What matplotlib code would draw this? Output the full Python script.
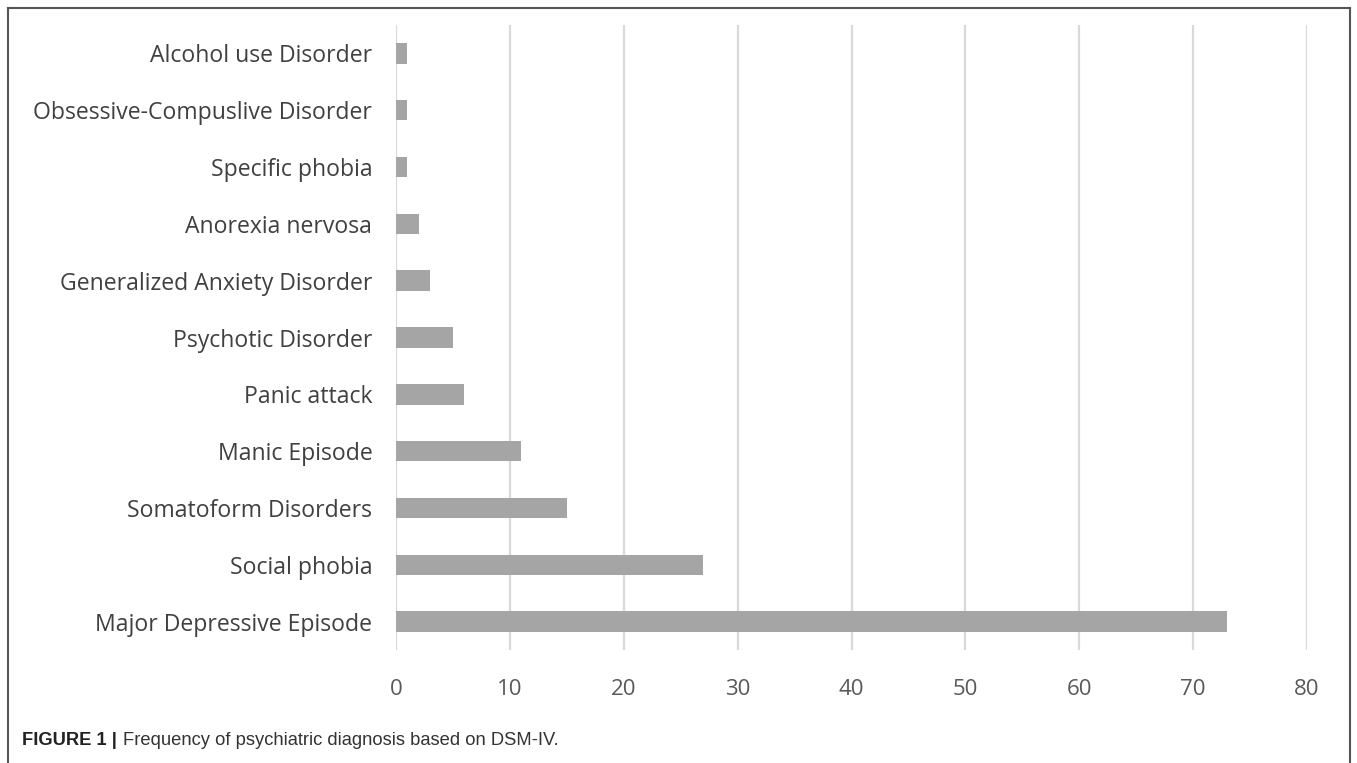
import matplotlib.pyplot as plt
from matplotlib.lines import Line2D

# Diagnoses (bottom to top) and patient counts
diagnoses = [
    "Major Depressive Episode",
    "Social phobia",
    "Somatoform Disorders",
    "Manic Episode",
    "Panic attack",
    "Psychotic Disorder",
    "Generalized Anxiety Disorder",
    "Anorexia nervosa",
    "Specific phobia",
    "Obsessive-Compuslive Disorder",
    "Alcohol use Disorder",
]
counts = [73, 27, 15, 11, 6, 5, 3, 2, 1, 1, 1]
xticks = list(range(0, 81, 10))

fig = plt.figure(figsize=(13.57, 7.63), dpi=100)
ax = fig.add_axes([0.2918, 0.1481, 0.6714, 0.8191])

ax.barh(range(len(diagnoses)), counts, height=0.36, color="#a5a5a5", zorder=3)

ax.set_xlim(0, 80)
ax.set_ylim(-0.5, len(diagnoses) - 0.5)
ax.set_xticks(xticks)
ax.set_xticklabels([str(t) for t in xticks], fontsize=16, color="#595959", family="Open Sans")
ax.set_yticks(range(len(diagnoses)))
ax.set_yticklabels(diagnoses, fontsize=16.6, color="#404040", family="Open Sans")
ax.tick_params(length=0)
ax.tick_params(axis="x", pad=21)
ax.tick_params(axis="y", pad=17)
for s in ax.spines.values():
    s.set_visible(False)
for t in xticks:
    ax.axvline(t, color="#d9d9d9", lw=1.6, zorder=1)

# outer frame around the figure panel
frame = dict(color="#555555", lw=1.5, transform=fig.transFigure)
fig.add_artist(Line2D([0.006, 0.995], [0.989, 0.989], **frame))
fig.add_artist(Line2D([0.006, 0.006], [0.0, 0.989], **frame))
fig.add_artist(Line2D([0.995, 0.995], [0.0, 0.989], **frame))

fig.text(0.016, 0.030, "FIGURE 1 |", fontsize=13.2, fontweight="bold", va="center",
         color="#222222", family="Liberation Sans")
fig.text(0.0905, 0.030, "Frequency of psychiatric diagnosis based on DSM-IV.", va="center",
         fontsize=13.2, color="#333333", family="Liberation Sans")

fig.savefig("out.png", dpi=100)
